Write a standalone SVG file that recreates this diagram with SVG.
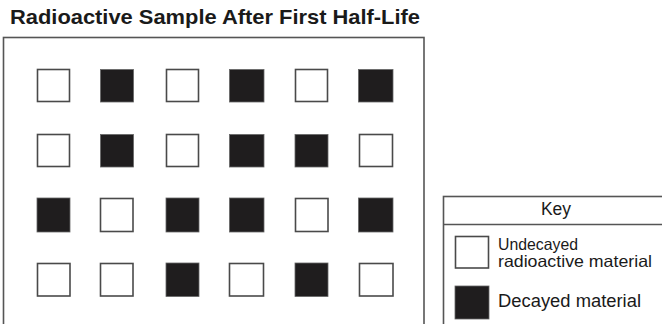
<svg xmlns="http://www.w3.org/2000/svg" width="662" height="324" viewBox="0 0 662 324">
  <style>
    .frame { fill: #ffffff; stroke: #555555; stroke-width: 1.6; }
    .u { fill: #ffffff; stroke: #4a4a4a; stroke-width: 1.6; }
    .d { fill: #1f1d1e; stroke: #666666; stroke-width: 0.8; }
    .title { font-family: "Liberation Sans", Arial, sans-serif; font-weight: bold; font-size: 21px; fill: #1a1a1a; }
    .lbl { font-family: "Liberation Sans", Arial, sans-serif; font-size: 17.5px; fill: #1a1a1a; }
    .lbl2 { font-family: "Liberation Sans", Arial, sans-serif; font-size: 16.5px; fill: #1a1a1a; }
  </style>
  <rect width="662" height="324" fill="#ffffff"/>
  <text class="title" x="10" y="23.5" textLength="410" lengthAdjust="spacingAndGlyphs">Radioactive Sample After First Half-Life</text>

  <g id="sample">
    <rect class="frame" x="3.5" y="37.5" width="420.5" height="300"/>
    <!-- row 1 -->
    <rect class="u" x="37.5" y="69.5" width="32" height="32"/>
    <rect class="d" x="100.5" y="69.5" width="33" height="32.5"/>
    <rect class="u" x="166.5" y="69.5" width="32" height="32"/>
    <rect class="d" x="229.5" y="69.5" width="34.5" height="32.5"/>
    <rect class="u" x="295.5" y="69.5" width="32" height="32"/>
    <rect class="d" x="358.5" y="69.5" width="34.5" height="32.5"/>
    <!-- row 2 -->
    <rect class="u" x="37.5" y="134.5" width="32" height="32"/>
    <rect class="d" x="100.5" y="134.5" width="33" height="32.5"/>
    <rect class="u" x="166.5" y="134.5" width="32" height="32"/>
    <rect class="d" x="229.5" y="134.5" width="34.5" height="32.5"/>
    <rect class="d" x="295" y="134.5" width="33" height="32.5"/>
    <rect class="u" x="359.5" y="134.5" width="33" height="32"/>
    <!-- row 3 -->
    <rect class="d" x="37" y="198" width="33" height="34"/>
    <rect class="u" x="100.5" y="198.5" width="32.5" height="33"/>
    <rect class="d" x="166" y="198" width="33" height="34"/>
    <rect class="d" x="229.5" y="198" width="34.5" height="34"/>
    <rect class="u" x="295.5" y="198.5" width="32.5" height="33"/>
    <rect class="d" x="358.5" y="198" width="34.5" height="34"/>
    <!-- row 4 -->
    <rect class="u" x="37.5" y="263.5" width="32.5" height="32.5"/>
    <rect class="u" x="100.5" y="263.5" width="32.5" height="32.5"/>
    <rect class="d" x="166" y="263" width="33" height="33.5"/>
    <rect class="u" x="229.5" y="263.5" width="34" height="32.5"/>
    <rect class="d" x="295" y="263" width="33" height="33.5"/>
    <rect class="u" x="359.5" y="263.5" width="33.5" height="32.5"/>
  </g>

  <g id="key">
    <rect class="frame" x="443.5" y="196.5" width="240" height="150"/>
    <line x1="443.5" y1="224.5" x2="662" y2="224.5" stroke="#555555" stroke-width="1.6"/>
    <text class="lbl" x="556" y="214.5" text-anchor="middle">Key</text>
    <rect class="u" x="455.5" y="236.5" width="33" height="31.5"/>
    <text class="lbl2" x="498" y="249.5" textLength="80" lengthAdjust="spacingAndGlyphs">Undecayed</text>
    <text class="lbl2" x="498" y="267" textLength="154" lengthAdjust="spacingAndGlyphs">radioactive material</text>
    <rect class="d" x="455" y="286" width="34" height="33"/>
    <text class="lbl" x="498" y="307" textLength="143" lengthAdjust="spacingAndGlyphs">Decayed material</text>
  </g>
</svg>
